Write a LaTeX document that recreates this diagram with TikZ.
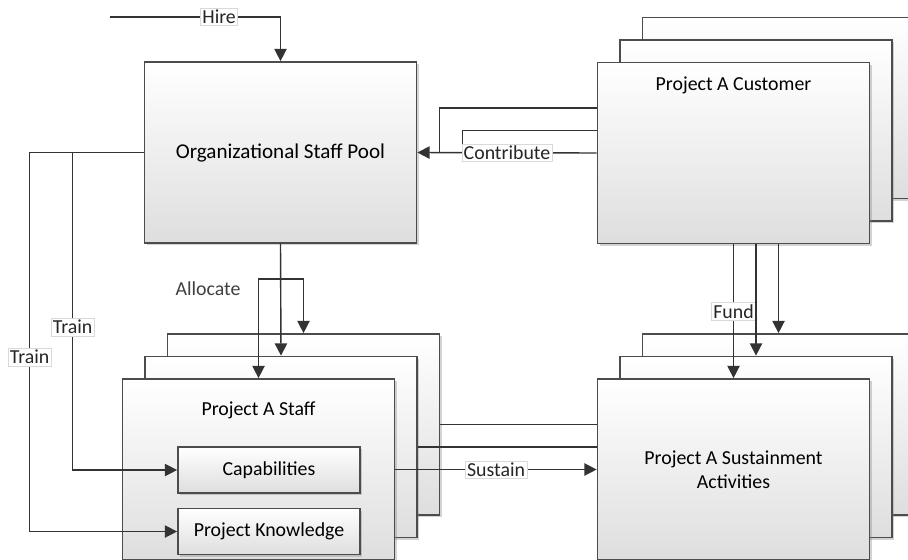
\documentclass[tikz,border=0pt]{standalone}
\usepackage{fontspec}
\setmainfont{Carlito}
\usetikzlibrary{positioning,shadows,arrows.meta}

\tikzset{
  box/.style={draw=black!70, line width=1pt, top color=white, bottom color=black!13,
    minimum width=5.44cm, minimum height=3.62cm,
    drop shadow={shadow xshift=1.2pt, shadow yshift=-1.2pt, opacity=0.35}},
  subbox/.style={box, minimum width=3.64cm, minimum height=0.92cm},
  lbl/.style={fill=white, draw=black!15, line width=0.3pt, inner sep=1pt, text=black!85},
  flow/.style={draw=black!80, line width=0.8pt},
  tip/.style={-{Triangle[length=7pt,width=7pt]}},
}

\begin{document}
\begin{tikzpicture}[x=0.02cm, y=-0.02cm, font=\fontsize{11.3}{13.6}\selectfont]
  \useasboundingbox (0,0) rectangle (908,559);
  \clip (0,0) rectangle (908,559);

  % staff pool
  \node[box, font=\fontsize{12}{14}\selectfont] (org) at (280.5,152.5) {Organizational Staff Pool};

  % customer stack
  \node[box] (custC) at (778.5,108) {};
  \node[box, on grid, below left=0.45cm and 0.45cm of custC] (custB) {};
  \node[box, on grid, below left=0.45cm and 0.45cm of custB] (custA) {};
  \node (custtitle) at (733.5,85) {Project A Customer};

  % staff stack
  \node[box] (staffC) at (303.5,424.5) {};
  \node[box, on grid, below left=0.45cm and 0.45cm of staffC] (staffB) {};
  \node[box, on grid, below left=0.45cm and 0.45cm of staffB] (staffA) {};
  \node (stafftitle) at (258.5,410) {Project A Staff};
  \node[subbox] (cap) at (269,470) {Capabilities};
  \node[subbox] (know) at (269,531.5) {Project Knowledge};

  % sustainment stack
  \node[box] (susC) at (778.5,424.5) {};
  \node[box, on grid, below left=0.45cm and 0.45cm of susC] (susB) {};
  \node[box, on grid, below left=0.45cm and 0.45cm of susB, align=center] (susA)
    {Project A Sustainment\\Activities};

  % hire
  \coordinate (hire-in) at (110,17);
  \draw[flow,tip] (hire-in) -| (org.north) node[lbl, pos=0.32] {Hire};

  % contribute
  \coordinate (join-1) at ([xshift=0.44cm]org.east);
  \coordinate (join-2) at ([xshift=0.9cm]org.east);
  \draw[flow] (custA.west |- custC.center) -| (join-1);
  \draw[flow] (custA.west |- custB.center) -| (join-2);
  \draw[flow,tip] (custA.west) -- (org.east) node[lbl, pos=0.5] {Contribute};

  % allocate
  \draw[flow,tip] (org.south) -- (staffB.north);
  \draw[flow,tip] (org.south) -- ++(0,35) -| (staffA.north);
  \draw[flow,tip] (org.south) -- ++(0,35) -| (staffC.north);
  \node[text=black!75] (allocate) at (208,289) {Allocate};

  % train
  \draw[flow,tip] (org.west) -- ++(-71,0) |- (cap.west) node[lbl, pos=0.275] {Train};
  \draw[flow,tip] (org.west) -- ++(-114,0) |- (know.west) node[lbl, pos=0.27] {Train};

  % sustain
  \draw[flow] (staffC.east) -- (staffC.east -| susA.west);
  \draw[flow] (staffB.east) -- (staffB.east -| susA.west);
  \draw[flow,tip] (staffA.east) -- (susA.west) node[lbl, pos=0.5] {Sustain};

  % fund
  \draw[flow,tip] (custA.south) -- (susA.north) node[lbl, pos=0.5] {Fund};
  \draw[flow,tip] (custA.south -| susB.north) -- (susB.north);
  \draw[flow,tip] (custA.south -| susC.north) -- (susC.north);
\end{tikzpicture}
\end{document}
